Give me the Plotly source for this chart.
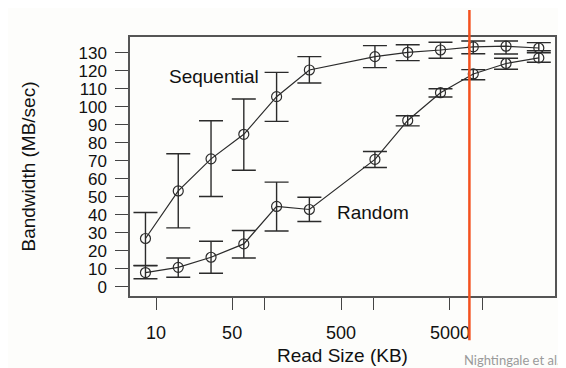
import plotly.graph_objects as go

read_size_kb = [8, 16, 32, 64, 128, 256, 1024, 2048, 4096, 8192, 16384, 32768]

seq_bw = [26.9, 53.3, 71.1, 84.7, 105.6, 120.4, 127.8, 130.2, 131.5, 133.2, 133.6, 132.6]
seq_hi = [41.3, 73.9, 92.2, 104.3, 119.1, 127.8, 133.9, 134.4, 135.8, 136.5, 136.5, 135.6]
seq_lo = [12.0, 32.8, 50.2, 64.8, 91.9, 113.2, 121.7, 125.6, 126.9, 129.4, 129.3, 131.1]

rnd_bw = [8.0, 10.9, 16.5, 23.9, 44.7, 43.0, 70.8, 92.4, 107.8, 118.2, 124.0, 127.1]
rnd_hi = [11.8, 16.1, 25.4, 31.3, 58.2, 49.8, 75.2, 95.0, 110.0, 120.6, 126.9, 130.0]
rnd_lo = [4.6, 5.4, 7.6, 16.1, 31.1, 36.3, 66.3, 89.4, 105.4, 115.0, 120.8, 124.7]

x_tickvals = [10, 50, 100, 500, 1000, 5000, 10000]
x_ticktext = ["10", "50", "", "500", "", "5000", ""]
y_tickvals = list(range(0, 131, 10))

marker_x_kb = 7550  # red vertical marker

INK = "#2b2b2b"
FONT = "Liberation Sans, Arial, Helvetica, sans-serif"

fig = go.Figure()

def add_series(name, ys, hi, lo):
    fig.add_trace(go.Scatter(
        x=read_size_kb, y=ys, name=name, mode="lines+markers",
        line=dict(color=INK, width=1.2),
        marker=dict(symbol="circle-open", size=10, color=INK, line=dict(width=1.2, color=INK)),
        error_y=dict(type="data", symmetric=False,
                     array=[h - v for h, v in zip(hi, ys)],
                     arrayminus=[v - l for v, l in zip(ys, lo)],
                     color=INK, thickness=1.4, width=12),
        showlegend=False, hoverinfo="x+y",
    ))

add_series("Sequential", seq_bw, seq_hi, seq_lo)
add_series("Random", rnd_bw, rnd_hi, rnd_lo)

fig.add_annotation(x=1.533, y=116.7, xref="x", yref="y", text="Sequential", showarrow=False,
                   font=dict(family=FONT, size=19, color="#111"))
fig.add_annotation(x=2.993, y=41.1, xref="x", yref="y", text="Random", showarrow=False,
                   font=dict(family=FONT, size=19, color="#111"))

# axis titles
fig.add_annotation(x=0.5, y=-0.229, xref="paper", yref="paper", text="Read Size (KB)",
                   showarrow=False, yanchor="middle", font=dict(family=FONT, size=19, color="#111"))
fig.add_annotation(x=-0.24, y=0.5, xref="paper", yref="paper", text="Bandwidth (MB/sec)",
                   showarrow=False, textangle=-90, xanchor="center", yanchor="middle",
                   font=dict(family=FONT, size=19, color="#111"))

fig.add_shape(type="line", xref="x", yref="paper", x0=marker_x_kb, x1=marker_x_kb,
              y0=-0.171, y1=1.104, line=dict(color="#F4511E", width=2.5), layer="above")

fig.add_annotation(x=0.781, y=-0.2485, xref="paper", yref="paper", xanchor="left", yanchor="middle",
                   text="Nightingale et al.", showarrow=False,
                   font=dict(family="Lato, Open Sans, sans-serif", size=13, color="#9a9a9a"))

# page body adds an 8px offset, so margins are shifted to compensate
fig.update_layout(
    width=566, height=368,
    margin=dict(l=122, r=19, t=29, b=80),
    paper_bgcolor="#fdfdfb", plot_bgcolor="#fdfdfb",
    font=dict(family=FONT, size=18, color="#111"),
)
fig.update_xaxes(
    type="log", range=[0.761, 4.664], automargin=False,
    tickvals=x_tickvals, ticktext=x_ticktext,
    ticks="outside", ticklen=12, tickwidth=1.4, tickcolor="#444",
    showline=True, mirror=True, linecolor="#555", linewidth=1.5,
    showgrid=False, zeroline=False,
    tickfont=dict(size=18), ticklabelstandoff=8,
)
fig.update_yaxes(
    range=[-5, 138.7], tickvals=y_tickvals, automargin=False,
    ticks="outside", ticklen=13, tickwidth=1.4, tickcolor="#444",
    showline=True, mirror=True, linecolor="#555", linewidth=1.5,
    showgrid=False, zeroline=False,
    tickfont=dict(size=17), ticklabelstandoff=5,
)

fig.write_html("out.html")
